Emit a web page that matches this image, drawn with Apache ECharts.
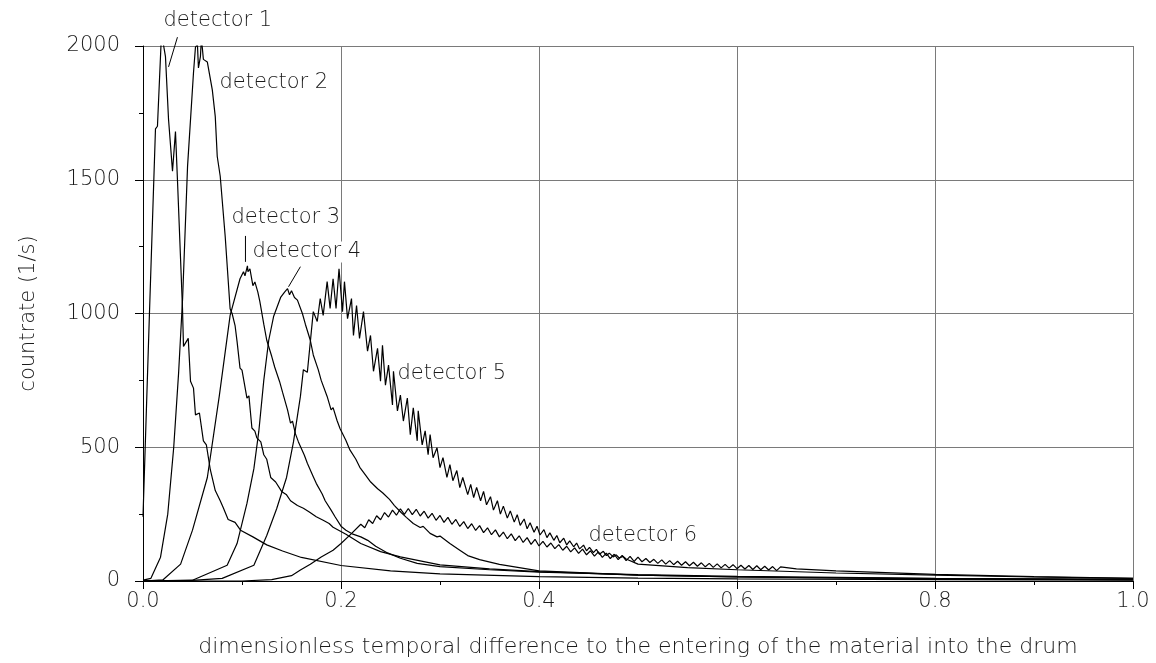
<!DOCTYPE html>
<html>
<head>
<meta charset="utf-8">
<script src="https://cdn.jsdelivr.net/npm/echarts@6/dist/echarts.min.js"></script>
<style>
  html, body { margin: 0; padding: 0; background: #fff; }
  #chart { width: 1156px; height: 663px; }
</style>
</head>
<body>
<div id="chart"></div>
<script>
// axis ticks
const xTicks = [0, 0.2, 0.4, 0.6, 0.8, 1.0];
const yTicks = [0, 500, 1000, 1500, 2000];

// detector 1
const det1X = [0, 0.0066, 0.0126, 0.0146, 0.0187, 0.0227, 0.0258, 0.0278, 0.0298, 0.0328, 0.0348, 0.0399,
  0.0409, 0.0457, 0.048, 0.051, 0.053, 0.057, 0.061, 0.064, 0.068, 0.073, 0.078, 0.081, 0.086, 0.093,
  0.0985, 0.111, 0.125, 0.141, 0.16, 0.2, 0.25, 0.3, 0.4, 0.5, 0.6, 0.8, 1.0];
const det1Y = [240, 1010, 1690, 1700, 2048, 1960, 1725, 1718, 1532, 1680, 1500, 1018,
  877, 907, 747, 721, 621, 628, 524, 509, 416, 338, 300, 275, 230, 219,
  190, 165, 135, 112, 88, 58, 38, 27, 16, 11, 8, 5, 3];

// detector 2
const det2X = [0, 0.008, 0.0177, 0.025, 0.031, 0.036, 0.040, 0.045, 0.051, 0.053, 0.055, 0.056, 0.058, 0.059,
  0.061, 0.065, 0.070, 0.073, 0.075, 0.078, 0.083, 0.088, 0.090, 0.093, 0.095, 0.098, 0.100, 0.105, 0.107,
  0.110, 0.113, 0.115, 0.119, 0.122, 0.125, 0.129, 0.134, 0.14, 0.145, 0.149, 0.156, 0.162, 0.168, 0.175,
  0.182, 0.188, 0.192, 0.205, 0.22, 0.24, 0.26, 0.3, 0.35, 0.4, 0.5, 0.6, 0.8, 1.0];
const det2Y = [3, 10, 89, 250, 498, 780, 1056, 1550, 1900, 1996, 2005, 1918, 1960, 2030,
  1950, 1940, 1836, 1736, 1587, 1513, 1290, 1018, 1000, 955, 896, 796, 788, 684, 692,
  572, 560, 535, 520, 472, 455, 387, 370, 335, 322, 300, 282, 272, 258, 240,
  227, 215, 201, 175, 140, 110, 90, 60, 45, 35, 22, 15, 8, 5];

// detector 3
const det3X = [0, 0.02, 0.038, 0.05, 0.065, 0.077, 0.088, 0.098, 0.1015, 0.103, 0.1055, 0.106, 0.108,
  0.111, 0.113, 0.116, 0.118, 0.12, 0.122, 0.125, 0.127, 0.13, 0.133, 0.135, 0.138, 0.141, 0.143,
  0.146, 0.149, 0.151, 0.154, 0.157, 0.159, 0.163, 0.166, 0.168, 0.172, 0.175, 0.177, 0.181, 0.184,
  0.186, 0.19, 0.194, 0.196, 0.2, 0.205, 0.212, 0.22, 0.227, 0.235, 0.247, 0.26, 0.277, 0.3, 0.35,
  0.4, 0.5, 0.6, 0.8, 1.0];
const det3Y = [0, 4, 63, 190, 387, 690, 993, 1130, 1156, 1141, 1178, 1156, 1167,
  1104, 1118, 1080, 1045, 1052, 960, 900, 905, 840, 800, 805, 745, 705, 712,
  640, 590, 598, 550, 520, 525, 470, 440, 447, 390, 365, 372, 325, 300,
  305, 265, 240, 245, 205, 190, 175, 165, 152, 130, 105, 85, 66, 54, 42,
  33, 24, 17, 10, 6];

// detector 4
const det4X = [0, 0.05, 0.085, 0.095, 0.105, 0.112, 0.117, 0.122, 0.127, 0.132, 0.139, 0.143, 0.146,
  0.148, 0.150, 0.153, 0.156, 0.158, 0.161, 0.164, 0.166, 0.169, 0.172, 0.174, 0.177, 0.18, 0.182,
  0.186, 0.19, 0.192, 0.196, 0.199, 0.201, 0.205, 0.209, 0.211, 0.215, 0.219, 0.221, 0.225, 0.23,
  0.232, 0.237, 0.242, 0.244, 0.249, 0.254, 0.256, 0.261, 0.266, 0.268, 0.273, 0.28, 0.283, 0.29,
  0.297, 0.3, 0.31, 0.32, 0.328, 0.34, 0.36, 0.4, 0.5, 0.6, 0.8, 1.0];
const det4Y = [0, 3, 59, 140, 290, 420, 560, 750, 900, 990, 1060, 1080, 1093,
  1070, 1085, 1060, 1050, 1055, 1000, 960, 965, 900, 845, 850, 790, 750, 757,
  690, 640, 648, 600, 570, 575, 525, 490, 496, 455, 425, 430, 395, 370,
  375, 345, 330, 334, 305, 282, 287, 255, 238, 242, 215, 200, 204, 178,
  165, 168, 140, 115, 95, 80, 62, 38, 22, 15, 9, 5];

// detector 5
const det5X = [0, 0.05, 0.08, 0.112, 0.125, 0.135, 0.145, 0.152,
  0.159, 0.162, 0.166, 0.172, 0.176, 0.179, 0.182, 0.186, 0.189, 0.192, 0.195, 0.198, 0.2015, 0.2035,
  0.2066, 0.2106, 0.2126, 0.2157, 0.2187, 0.2227, 0.2268, 0.2298, 0.2328, 0.2369, 0.2399, 0.2419, 0.2449,
  0.248, 0.252, 0.253, 0.257, 0.260, 0.263, 0.267, 0.270, 0.273, 0.277, 0.278, 0.282, 0.285, 0.288, 0.29,
  0.293, 0.297, 0.3, 0.303, 0.307, 0.31, 0.313, 0.317, 0.32, 0.323, 0.328, 0.331, 0.334,
  0.337, 0.341, 0.344, 0.347, 0.351, 0.354, 0.358, 0.361, 0.364, 0.368, 0.371, 0.375, 0.378, 0.381,
  0.385, 0.388, 0.391, 0.395, 0.398, 0.401, 0.405, 0.408, 0.411, 0.415, 0.418, 0.421, 0.425, 0.428,
  0.431, 0.435, 0.438, 0.441, 0.445, 0.448, 0.451, 0.455, 0.458, 0.461, 0.465, 0.468, 0.471, 0.475,
  0.478, 0.481, 0.485, 0.488, 0.49,
  0.5, 0.55, 0.6, 0.7, 0.8, 0.9, 1.0];
const det5Y = [0, 2, 10, 59, 170, 270, 387, 520,
  690, 790, 780, 1007, 970, 1056, 993, 1119, 1019, 1130, 1019, 1167, 1007, 1119,
  981, 1056, 918, 1030, 907, 1007, 859, 918, 784, 870, 747, 881, 732,
  807, 658, 784, 636, 695, 598, 684, 547, 647, 524, 636, 509, 561, 472, 547,
  461, 498, 424, 461, 387, 435, 375, 413, 349, 387, 323, 361, 312,
  350, 300, 335, 285, 315, 265, 300, 250, 280, 235, 262, 220, 248, 208,
  232, 195, 218, 182, 205, 172, 192, 162, 180, 152, 170, 143, 160, 135,
  150, 128, 142, 120, 134, 113, 126, 106, 118, 100, 111, 95, 104, 90,
  98, 86, 92, 82, 75,
  63, 50, 42, 30, 22, 15, 10];

// detector 6
const det6X = [0, 0.1, 0.13, 0.15, 0.159, 0.169, 0.18, 0.192, 0.2, 0.21];
const det6Y = [0, 0, 5, 20, 41, 63, 90, 115, 140, 175];
const det6WaveStart = 0.22;
const det6WaveStep = 0.004;
const det6Wave = [212, 199, 229, 215, 244, 229, 256, 239, 265, 246, 270, 249, 271, 248, 268, 243, 261, 235, 253, 227,
  245, 219, 238, 212, 230, 204, 222, 196, 214, 189, 207, 181, 199, 173, 191, 165, 183, 158, 176, 151,
  169, 144, 162, 137, 156, 131, 148, 127, 142, 121, 136, 115, 130, 109, 124, 103, 119, 98, 113, 93,
  109, 88, 104, 84, 100, 80, 96, 76, 92, 73, 89, 72, 84, 69, 81, 66, 79, 63, 76, 61,
  74, 59, 72, 57, 70, 55, 68, 53, 66, 51, 64, 49, 62, 48, 61, 46, 59, 45, 58, 43,
  57, 42, 55, 41, 54, 39, 53];
const det6TailX = [0.66, 0.7, 0.8, 0.9, 1.0];
const det6TailY = [45, 38, 25, 16, 10];

function pairs(xs, ys) {
  return xs.map((x, i) => [x, ys[i]]);
}

const det6Data = pairs(det6X, det6Y)
  .concat(det6Wave.map((v, i) => [+(det6WaveStart + i * det6WaveStep).toFixed(4), v]))
  .concat(pairs(det6TailX, det6TailY));

const seriesData = [
  pairs(det1X, det1Y),
  pairs(det2X, det2Y),
  pairs(det3X, det3Y),
  pairs(det4X, det4Y),
  pairs(det5X, det5Y),
  det6Data
];

const font = '"DejaVu Sans", sans-serif';
const fontSize = 21;
const fontWeight = 200;
const textColor = '#1a1a1a';
const gridColor = '#7a7a7a';

const chart = echarts.init(document.getElementById('chart'));

chart.setOption({
  animation: false,
  backgroundColor: '#fff',
  grid: { left: 143, right: 23, top: 46, bottom: 79 },
  xAxis: {
    type: 'value',
    min: 0, max: 1, interval: 0.2,
    name: 'dimensionless temporal difference to the entering of the material into the drum',
    nameLocation: 'middle',
    nameGap: 55,
    nameTextStyle: { fontFamily: font, fontSize: 22, color: textColor, fontWeight: fontWeight },
    axisLine: { show: true, onZero: false, lineStyle: { color: '#000', width: 1 } },
    axisTick: { show: true, inside: false, length: 8, lineStyle: { color: '#000' } },
    minorTick: { show: true, splitNumber: 2, length: 4, lineStyle: { color: '#000' } },
    axisLabel: {
      fontFamily: font, fontSize: fontSize, color: textColor, fontWeight: fontWeight, margin: 10,
      formatter: v => xTicks.includes(+v.toFixed(1)) ? v.toFixed(1) : ''
    },
    splitLine: { show: true, lineStyle: { color: gridColor, width: 1 } }
  },
  yAxis: {
    type: 'value',
    min: 0, max: 2000, interval: 500,
    name: 'countrate (1/s)',
    nameLocation: 'middle',
    nameGap: 104,
    nameTextStyle: { fontFamily: font, fontSize: fontSize, color: textColor, fontWeight: fontWeight },
    axisLine: { show: true, onZero: false, lineStyle: { color: '#000', width: 1 } },
    axisTick: { show: true, inside: false, length: 8, lineStyle: { color: '#000' } },
    minorTick: { show: true, splitNumber: 2, length: 4, lineStyle: { color: '#000' } },
    axisLabel: {
      fontFamily: font, fontSize: fontSize, color: textColor, fontWeight: fontWeight, margin: 23,
      formatter: v => yTicks.includes(v) ? String(v) : ''
    },
    splitLine: { show: true, lineStyle: { color: gridColor, width: 1 } }
  },
  series: seriesData.map((d, i) => ({
    name: 'detector ' + (i + 1),
    type: 'line',
    data: d,
    showSymbol: false,
    symbol: 'none',
    smooth: false,
    lineStyle: { color: '#000', width: 1.2 },
    z: 3
  }))
});

// annotation labels and leader lines, positioned in data coordinates
const labels = [
  { text: 'detector 1', at: [0.0207, 2097] },
  { text: 'detector 2', at: [0.0773, 1862] },
  { text: 'detector 3', at: [0.0894, 1357] },
  { text: 'detector 4', at: [0.1106, 1230] },
  { text: 'detector 5', at: [0.257, 777] },
  { text: 'detector 6', at: [0.45, 171] }
];
const leaders = [
  [[0.0348, 2033], [0.0258, 1922]],
  [[0.1035, 1290], [0.1035, 1193]],
  [[0.159, 1175], [0.147, 1100]]
];

const px = p => chart.convertToPixel({ gridIndex: 0 }, p);
const graphic = [];
labels.forEach(l => {
  const p = px(l.at);
  graphic.push({
    type: 'text', x: p[0], y: p[1], z: 10,
    style: { text: l.text, fontFamily: font, fontSize: fontSize, fontWeight: fontWeight, fill: textColor,
      textAlign: 'left', textVerticalAlign: 'middle', verticalAlign: 'middle', backgroundColor: '#fff' }
  });
});
leaders.forEach(l => {
  const a = px(l[0]), b = px(l[1]);
  graphic.push({
    type: 'line', z: 10,
    shape: { x1: a[0], y1: a[1], x2: b[0], y2: b[1] },
    style: { stroke: '#000', lineWidth: 1 }
  });
});
chart.setOption({ graphic: graphic });
</script>
</body>
</html>
